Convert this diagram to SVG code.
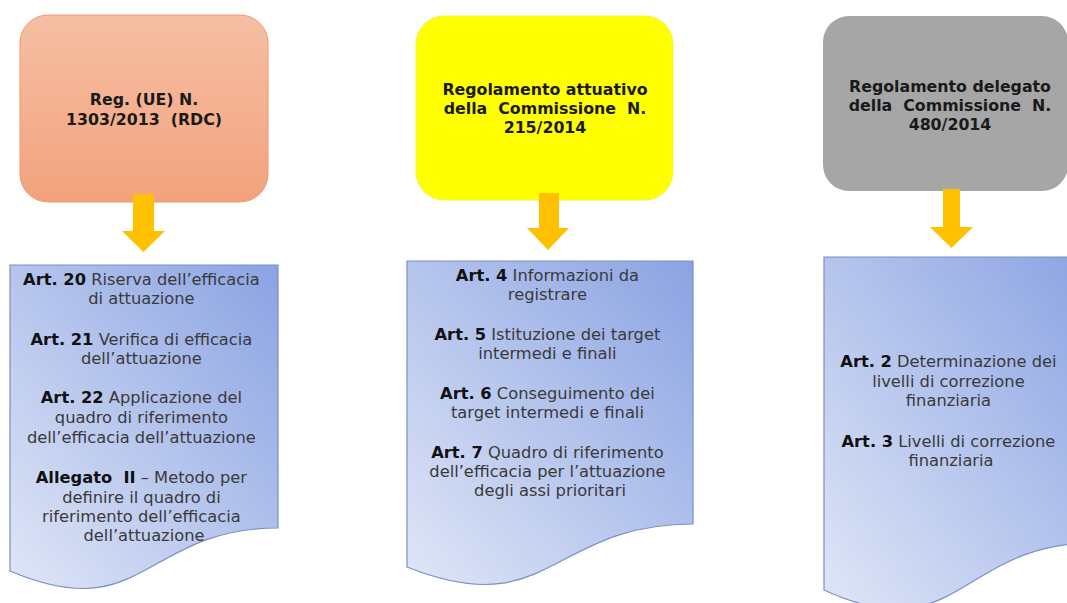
<svg xmlns="http://www.w3.org/2000/svg" width="1067" height="603" viewBox="0 0 1067 603">
<defs>
<linearGradient id="gOrange" x1="0" y1="0" x2="0" y2="1">
<stop offset="0" stop-color="#f6bfa3"/>
<stop offset="1" stop-color="#f2a27d"/>
</linearGradient>
<linearGradient id="gDoc" x1="0" y1="1" x2="1" y2="0">
<stop offset="0" stop-color="#e0e6f7"/>
<stop offset="1" stop-color="#8aa3e2"/>
</linearGradient>
<style>
.title{font-family:"DejaVu Sans",Verdana,sans-serif;font-size:15.8px;font-weight:bold;fill:#1a1a1a;text-anchor:middle}
.body{font-family:"DejaVu Sans",Verdana,sans-serif;font-size:16.3px;fill:#3a3a3a;text-anchor:middle}
.b{font-weight:bold;fill:#111}
.doc{fill:url(#gDoc);stroke:#7a8fc4;stroke-width:1.2}
.arrow{fill:#ffc000}
</style>
</defs>
<g id="box1">
<rect x="20" y="15" width="248" height="187" rx="28" fill="url(#gOrange)" stroke="#eb9a70" stroke-width="1"/>
<text class="title" xml:space="preserve"><tspan x="144" y="105">Reg. (UE) N.</tspan><tspan x="144" y="125">1303/2013  (RDC)</tspan></text>
</g>
<g id="box2">
<rect x="416" y="16" width="257" height="184" rx="28" fill="#ffff00" stroke="#f2f24a" stroke-width="1"/>
<text class="title" xml:space="preserve"><tspan x="545" y="95">Regolamento attuativo</tspan><tspan x="545" y="114">della  Commissione  N.</tspan><tspan x="545" y="133">215/2014</tspan></text>
</g>
<g id="box3">
<rect x="823" y="16" width="245" height="175" rx="26" fill="#a6a6a6"/>
<text class="title" xml:space="preserve"><tspan x="950" y="92">Regolamento delegato</tspan><tspan x="950" y="111">della  Commissione  N.</tspan><tspan x="950" y="130">480/2014</tspan></text>
</g>
<g id="connectors">
<path class="arrow" d="M133,194 H154 V231 H165 L143.5,252 L122,231 H133 Z"/>
<path class="arrow" d="M539,193 H559 V228 H569 L548,250 L527,228 H539 Z"/>
<path class="arrow" d="M943,189 H960 V227 H973 L951.5,248 L930,227 H943 Z"/>
</g>
<g id="doc1">
<path class="doc" d="M10,265 H278 V528 C144,528 144,628 10,571 Z"/>
<text class="body">
<tspan x="144" y="285"><tspan class="b">Art. 20</tspan> Riserva dell’efficacia</tspan>
<tspan x="144" y="304">di attuazione</tspan>
<tspan x="144" y="345"><tspan class="b">Art. 21</tspan> Verifica di efficacia</tspan>
<tspan x="144" y="364">dell’attuazione</tspan>
<tspan x="144" y="403"><tspan class="b">Art. 22</tspan> Applicazione del</tspan>
<tspan x="144" y="423">quadro di riferimento</tspan>
<tspan x="144" y="443">dell’efficacia dell’attuazione</tspan>
<tspan x="144" y="483"><tspan class="b" xml:space="preserve">Allegato  II</tspan> – Metodo per</tspan>
<tspan x="144" y="503">definire il quadro di</tspan>
<tspan x="144" y="522">riferimento dell’efficacia</tspan>
<tspan x="144" y="541">dell’attuazione</tspan>
</text>
</g>
<g id="doc2">
<path class="doc" d="M407,261 H693 V524 C550,524 550,624 407,567 Z"/>
<text class="body">
<tspan x="550" y="281"><tspan class="b">Art. 4</tspan> Informazioni da</tspan>
<tspan x="550" y="300">registrare</tspan>
<tspan x="550" y="340"><tspan class="b">Art. 5</tspan> Istituzione dei target</tspan>
<tspan x="550" y="359">intermedi e finali</tspan>
<tspan x="550" y="399"><tspan class="b">Art. 6</tspan> Conseguimento dei</tspan>
<tspan x="550" y="418">target intermedi e finali</tspan>
<tspan x="550" y="458"><tspan class="b">Art. 7</tspan> Quadro di riferimento</tspan>
<tspan x="550" y="477">dell’efficacia per l’attuazione</tspan>
<tspan x="550" y="496">degli assi prioritari</tspan>
</text>
</g>
<g id="doc3">
<path class="doc" d="M824,257 H1094 V543 C959,543 959,652 824,590 Z"/>
<text class="body">
<tspan x="951" y="367"><tspan class="b">Art. 2</tspan> Determinazione dei</tspan>
<tspan x="951" y="387">livelli di correzione</tspan>
<tspan x="951" y="406">finanziaria</tspan>
<tspan x="951" y="447"><tspan class="b">Art. 3</tspan> Livelli di correzione</tspan>
<tspan x="951" y="466">finanziaria</tspan>
</text>
</g>
</svg>
